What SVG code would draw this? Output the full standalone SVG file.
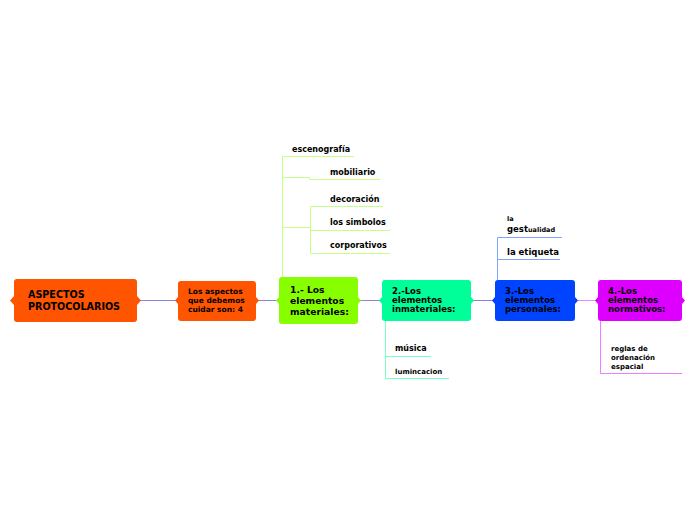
<svg xmlns="http://www.w3.org/2000/svg" width="696" height="520" viewBox="0 0 696 520">
<style>
.t{font-family:"DejaVu Sans","Verdana",sans-serif;font-weight:bold;fill:#000}
.c{fill:none;stroke-width:1}
</style>
<rect width="696" height="520" fill="#fff"/>
<g id="connectors">
<path class="c" stroke="#8f80e0" d="M137 300.5H178M256 300.5H279M358 300.5H382M471 300.5H495"/>
<path class="c" stroke="#e98cf7" d="M575 300.5H598"/>
<path class="c" stroke="#c4ff88" d="M282.5 277V156.5H354M282.5 177.5H309.5V179.5H380M282.5 227.5H310.5M310.5 206.5V253.5M310.5 206.5H383M310.5 230.5H390M310.5 253.5H390"/>
<path class="c" stroke="#77ffc4" d="M385.5 321V378.5H449M385.5 356.5H431"/>
<path class="c" stroke="#7fa2ff" d="M497.5 280V237.5H562M497.5 259.5H560"/>
<path class="c" stroke="#ea80ff" d="M600.5 321V373.5H682"/>
</g>
<g id="n0">
<rect x="14" y="279" width="123" height="43" rx="3" fill="#ff5500"/>
<path d="M14 296L10 300.5L14 305ZM137 296L141 300.5L137 305Z" fill="#ff5500"/>
<text class="t" font-size="9.6"><tspan x="28" y="298">ASPECTOS</tspan><tspan x="28" y="310">PROTOCOLARIOS</tspan></text>
</g>
<g id="n1">
<rect x="178" y="281" width="78" height="40" rx="3" fill="#ff5500"/>
<path d="M178 297L175 300.5L178 304ZM256 297L259 300.5L256 304Z" fill="#ff5500"/>
<text class="t" font-size="7.5"><tspan x="188" y="294">Los aspectos</tspan><tspan x="188" y="303">que debemos</tspan><tspan x="188" y="312">cuidar son: 4</tspan></text>
</g>
<g id="n2">
<rect x="279" y="277" width="79" height="47" rx="3" fill="#88ff00"/>
<path d="M279 297L276 300.5L279 304ZM358 297L361 300.5L358 304Z" fill="#88ff00"/>
<text class="t" font-size="9.2"><tspan x="290" y="293">1.- Los</tspan><tspan x="290" y="304">elementos</tspan><tspan x="290" y="315">materiales:</tspan></text>
</g>
<g id="n3">
<rect x="382" y="280" width="89" height="41" rx="3" fill="#00ff99"/>
<path d="M382 297L379 300.5L382 304ZM471 297L474 300.5L471 304Z" fill="#00ff99"/>
<text class="t" font-size="8.5"><tspan x="392" y="294">2.-Los</tspan><tspan x="392" y="303">elementos</tspan><tspan x="392" y="312">inmateriales:</tspan></text>
</g>
<g id="n4">
<rect x="495" y="280" width="80" height="41" rx="3" fill="#0044ff"/>
<path d="M495 297L492 300.5L495 304ZM575 297L578 300.5L575 304Z" fill="#0044ff"/>
<text class="t" font-size="8.5"><tspan x="505" y="294">3.-Los</tspan><tspan x="505" y="303">elementos</tspan><tspan x="505" y="312">personales:</tspan></text>
</g>
<g id="n5">
<rect x="598" y="280" width="84" height="41" rx="3" fill="#dd00ff"/>
<path d="M598 297L595 300.5L598 304ZM682 297L685 300.5L682 304Z" fill="#dd00ff"/>
<text class="t" font-size="8.5"><tspan x="608" y="294">4.-Los</tspan><tspan x="608" y="303">elementos</tspan><tspan x="608" y="312">normativos:</tspan></text>
</g>
<g id="s_escenografia"><text class="t" font-size="8" x="292" y="152">escenografía</text></g>
<g id="s_mobiliario"><text class="t" font-size="8" x="330" y="175">mobiliario</text></g>
<g id="s_decoracion"><text class="t" font-size="8" x="330" y="202">decoración</text></g>
<g id="s_simbolos"><text class="t" font-size="8" x="330" y="225">los simbolos</text></g>
<g id="s_corporativos"><text class="t" font-size="8" x="330" y="248">corporativos</text></g>
<g id="s_musica"><text class="t" font-size="8" x="395" y="351">música</text></g>
<g id="s_lumincacion"><text class="t" font-size="7" x="395" y="374">lumincacion</text></g>
<g id="s_gestualidad"><text class="t" font-size="6.5"><tspan x="507" y="221">la</tspan><tspan x="507" y="232" font-size="8.5">gest</tspan><tspan font-size="6.5">ualidad</tspan></text></g>
<g id="s_etiqueta"><text class="t" font-size="8.5" x="507" y="255">la etiqueta</text></g>
<g id="s_reglas"><text class="t" font-size="7"><tspan x="611" y="351">reglas de</tspan><tspan x="611" y="360">ordenación</tspan><tspan x="611" y="369">espacial</tspan></text></g>
</svg>
